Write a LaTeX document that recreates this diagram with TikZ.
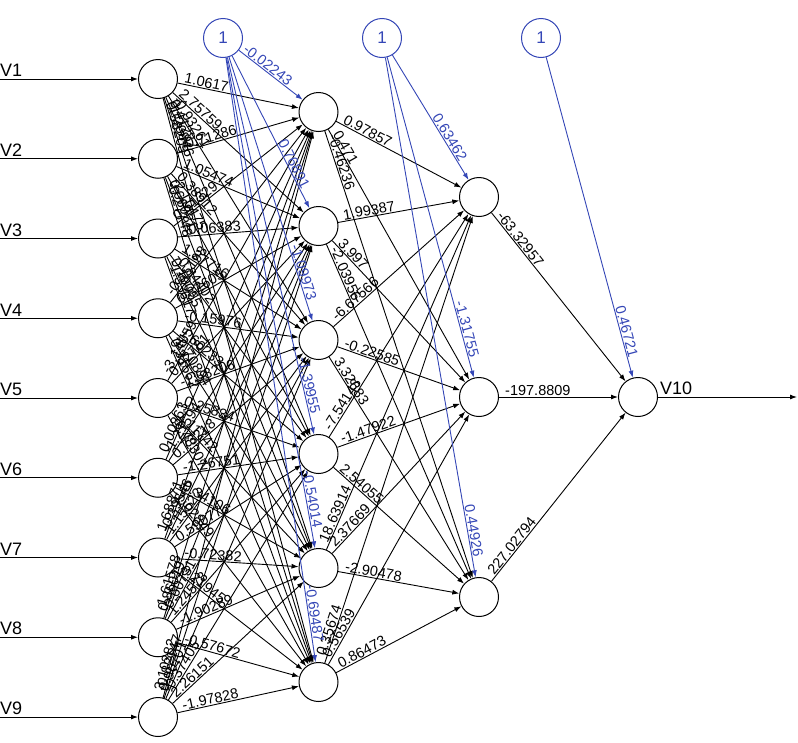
\documentclass[tikz,border=0pt]{standalone}
\usepackage{fontspec}
\setmainfont{Liberation Sans}
\usetikzlibrary{arrows.meta,calc}
\definecolor{biasblue}{RGB}{52,70,182}
\begin{document}
\begin{tikzpicture}[x=1pt,y=-1pt,
  neuron/.style={circle,draw,line width=1pt,minimum size=39pt,inner sep=0pt},
  biasnode/.style={neuron,draw=biasblue,text=biasblue,font=\fontsize{17}{17}\selectfont},
  edge/.style={line width=0.9pt,-{Latex[length=7pt,width=5pt]}},
  bedge/.style={edge,draw=biasblue},
  wlab/.style={sloped,anchor=south west,inner sep=1pt,font=\fontsize{14.5}{14.5}\selectfont},
  blab/.style={sloped,anchor=south east,inner sep=1pt,text=biasblue,font=\fontsize{14.5}{14.5}\selectfont},
  vlab/.style={anchor=south west,inner sep=0pt,font=\fontsize{18}{18}\selectfont}]
\useasboundingbox (0,0) rectangle (798,742);
% input layer
\foreach \i in {1,...,9} {
  \node[neuron] (I\i) at (158,{79+(\i-1)*79.75}) {};
  \coordinate (in\i) at (0,{79+(\i-1)*79.75});
  \draw[edge] (in\i) -- (I\i);
  \node[vlab] (lv\i) at (0,{77+(\i-1)*79.75}) {V\i};
}
% hidden layer 1
\foreach \j in {1,...,6} {
  \node[neuron] (H\j) at (318.5,{112+(\j-1)*114}) {};
}
% hidden layer 2
\foreach \k in {1,2,3} {
  \node[neuron] (K\k) at (479,{197+(\k-1)*200}) {};
}
% output
\node[neuron] (O) at (638,397) {};
\coordinate (out) at (797,397);
\draw[edge] (O) -- (out);
\node[vlab] (lv10) at (660,395) {V10};
% bias nodes
\node[biasnode] (B1) at (223,38) {1};
\node[biasnode] (B2) at (382,38) {1};
\node[biasnode] (B3) at (541,38) {1};
% edges
\foreach \i in {1,...,9} {
  \foreach \j in {1,...,6} {
    \draw[edge] (I\i) -- (H\j);
  }
}
\foreach \j in {1,...,6} {
  \foreach \k in {1,2,3} {
    \draw[edge] (H\j) -- (K\k);
  }
}
\foreach \k in {1,2,3} {
  \draw[edge] (K\k) -- (O);
}
\foreach \j in {1,...,6} {
  \draw[bedge] (B1) -- (H\j);
}
\foreach \k in {1,2,3} {
  \draw[bedge] (B2) -- (K\k);
}
\draw[bedge] (B3) -- (O);
% weight labels input -> hidden 1
\foreach \i/\j/\w in {
  1/1/1.0617, 1/2/2.75759, 1/3/-0.93261, 1/4/0.41287, 1/5/-1.20846, 1/6/0.58203,
  2/1/-0.71286, 2/2/1.05474, 2/3/0.38912, 2/4/-2.10475, 2/5/0.66031, 2/6/-0.27748,
  3/1/0.51329, 3/2/-0.06383, 3/3/1.27716, 3/4/-0.84402, 3/5/0.19055, 3/6/-1.33617,
  4/1/-0.45198, 4/2/0.82605, 4/3/-0.15976, 4/4/1.60233, 4/5/-0.70894, 4/6/0.31562,
  5/1/-3.14059, 5/2/0.92781, 5/3/-1.58206, 5/4/0.25834, 5/5/1.11742, 5/6/-0.48307,
  6/1/0.00863, 6/2/-1.21594, 6/3/0.73218, 6/4/-1.26751, 6/5/0.34106, 6/6/1.02849,
  7/1/1.68871, 7/2/-0.39546, 7/3/1.15622, 7/4/0.59077, 7/5/-0.72382, 7/6/0.21945,
  8/1/-1.61578, 8/2/0.86019, 8/3/-0.60731, 8/4/1.24578, 8/5/-1.90289, 8/6/-0.57672,
  9/1/3.10382, 9/2/-0.82147, 9/3/0.90701, 9/4/-0.37405, 9/5/2.26151, 9/6/-1.97828} {
  \path ($(I\i)!25pt!(H\j)$) -- (H\j) node[wlab,pos=0]{\w};
}
% weight labels hidden 1 -> hidden 2
\foreach \j/\k/\w in {
  1/1/0.97857, 1/2/0.471, 1/3/-0.46236,
  2/1/1.99387, 2/2/3.997, 2/3/-2.03956,
  3/1/-6.67566, 3/2/-0.22585, 3/3/3.32683,
  4/1/-7.54143, 4/2/-1.47922, 4/3/2.54055,
  5/1/18.63914, 5/2/2.37669, 5/3/-2.90478,
  6/1/0.35674, 6/2/0.56539, 6/3/0.86473} {
  \path ($(H\j)!25pt!(K\k)$) -- (K\k) node[wlab,pos=0]{\w};
}
% weight labels hidden 2 -> output
\foreach \k/\w in {1/-63.32957, 2/-197.8809, 3/227.02794} {
  \path ($(K\k)!25pt!(O)$) -- (O) node[wlab,pos=0]{\w};
}
% bias labels
\foreach \j/\w in {1/-0.02243, 2/0.76891, 3/-1.09973, 4/-1.39955, 5/-0.54014, 6/-0.69487} {
  \path (B1) -- ($(H\j)!39pt!(B1)$) node[blab,pos=1]{\w};
}
\foreach \k/\w in {1/0.63462, 2/-1.31755, 3/0.44926} {
  \path (B2) -- ($(K\k)!39pt!(B2)$) node[blab,pos=1]{\w};
}
\path (B3) -- ($(O)!39pt!(B3)$) node[blab,pos=1]{0.46721};
\end{tikzpicture}
\end{document}
